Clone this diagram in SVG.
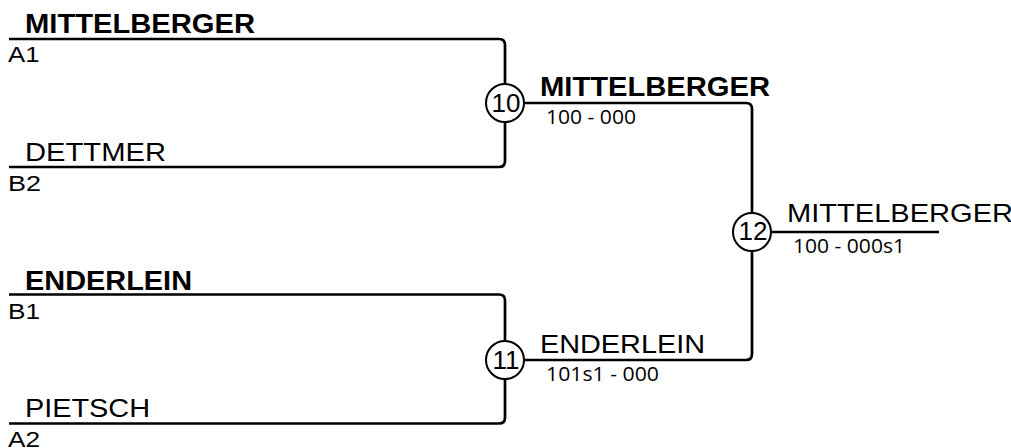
<svg xmlns="http://www.w3.org/2000/svg" width="1011" height="448" viewBox="0 0 1011 448">
<style>
.ln{fill:none;stroke:#000;stroke-width:2.7}
.c{fill:#fff;stroke:#000;stroke-width:2}
.nb{font-family:"Liberation Sans",Arial,sans-serif;font-size:27px;font-weight:bold;fill:#000}
.nr{font-family:"Liberation Sans",Arial,sans-serif;font-size:25.5px;fill:#000}
.sd{font-family:"Liberation Sans",Arial,sans-serif;font-size:21.5px;fill:#000}
.num{font-family:"Liberation Sans",Arial,sans-serif;font-size:26px;fill:#000;text-anchor:middle}
.sc{font-family:"Open Sans",sans-serif;font-size:20.5px;fill:#000}
</style>
<g id="connectors">
<path class="ln" d="M9,39 H499 Q505,39 505,45 V161 Q505,167 499,167 H9"/>
<path class="ln" d="M9,294.5 H499 Q505,294.5 505,300.5 V417.5 Q505,423.5 499,423.5 H9"/>
<path class="ln" d="M505,103 H746 Q752,103 752,109 V354 Q752,360 746,360 H505"/>
<path class="ln" d="M752,232 H939"/>
</g>
<g id="entry-a1">
<text class="nb" x="25" y="33" textLength="230" lengthAdjust="spacingAndGlyphs">MITTELBERGER</text>
<text class="sd" x="8" y="61.5" textLength="31.5" lengthAdjust="spacingAndGlyphs">A1</text>
</g>
<g id="entry-b2">
<text class="nr" x="25" y="160.5" textLength="141" lengthAdjust="spacingAndGlyphs">DETTMER</text>
<text class="sd" x="8" y="191" textLength="33" lengthAdjust="spacingAndGlyphs">B2</text>
</g>
<g id="entry-b1">
<text class="nb" x="25" y="290" textLength="167" lengthAdjust="spacingAndGlyphs">ENDERLEIN</text>
<text class="sd" x="8" y="319" textLength="32" lengthAdjust="spacingAndGlyphs">B1</text>
</g>
<g id="entry-a2">
<text class="nr" x="25" y="417.3" textLength="125" lengthAdjust="spacingAndGlyphs">PIETSCH</text>
<text class="sd" x="8" y="446.5" textLength="32" lengthAdjust="spacingAndGlyphs">A2</text>
</g>
<g id="match-10">
<circle class="c" cx="505" cy="103" r="19"/>
<text class="num" x="506" y="112">10</text>
<text class="nb" x="540" y="96" textLength="230" lengthAdjust="spacingAndGlyphs">MITTELBERGER</text>
<text class="sc" x="546" y="123.5" textLength="90" lengthAdjust="spacingAndGlyphs">100 - 000</text>
</g>
<g id="match-11">
<circle class="c" cx="505" cy="360" r="19"/>
<text class="num" x="506" y="368.5">11</text>
<text class="nr" x="540" y="353.3" textLength="165" lengthAdjust="spacingAndGlyphs">ENDERLEIN</text>
<text class="sc" x="546" y="380.7" textLength="113" lengthAdjust="spacingAndGlyphs">101s1 - 000</text>
</g>
<g id="match-12">
<circle class="c" cx="752" cy="232" r="19"/>
<text class="num" x="753" y="240">12</text>
<text class="nr" x="787" y="221.7" textLength="226" lengthAdjust="spacingAndGlyphs">MITTELBERGER</text>
<text class="sc" x="793" y="253.3" textLength="112" lengthAdjust="spacingAndGlyphs">100 - 000s1</text>
</g>
</svg>
